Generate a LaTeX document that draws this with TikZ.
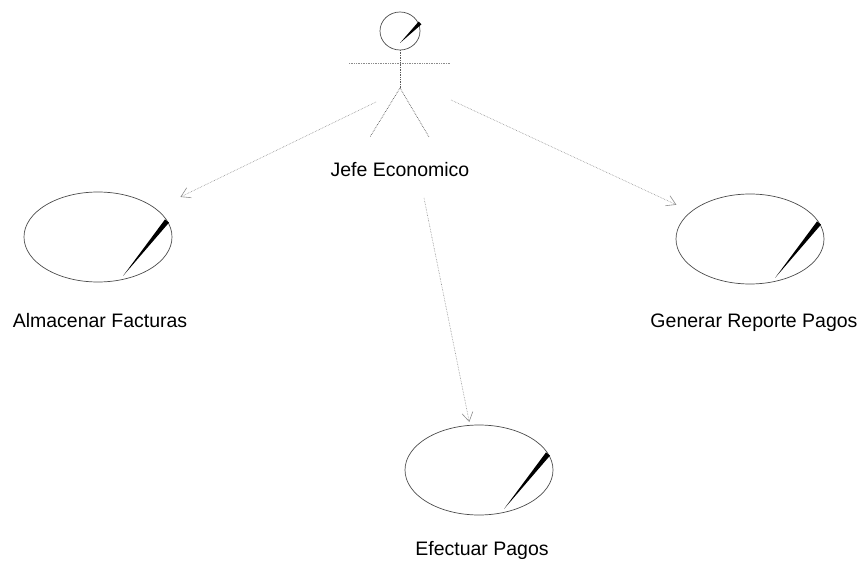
\documentclass[tikz,border=0pt]{standalone}
\usepackage{fontspec}
\setmainfont{Liberation Sans}
\usetikzlibrary{shapes.geometric,arrows.meta,calc}
\tikzset{
  usecase/.style={draw=black!70, line width=0.7pt, ellipse, minimum width=148pt, minimum height=90pt, inner sep=0pt},
  assoc/.style={draw=black!45, densely dotted, line width=0.6pt, -{Straight Barb[length=9pt,width=11pt]}},
  stick/.style={draw=black!65, densely dotted, line width=0.7pt},
  lbl/.style={font=\fontsize{19.5}{23}\selectfont, anchor=base, inner sep=0pt},
}
\begin{document}
\begin{tikzpicture}[x=1pt,y=-1pt]
    \useasboundingbox (0,0) rectangle (862,561);
    %actor
    \draw[draw=black!70, line width=0.7pt] (400,31) ellipse [x radius=20, y radius=19];
    \fill (400,43) -- (418.6,21.6) -- (421.4,24.4) -- cycle;
    \draw[stick] (400,50) -- (400,88);
    \draw[stick, black!45] (349,63) -- (450,63);
    \draw[stick] (400,88) -- (370,137);
    \draw[stick] (400,88) -- (429,137);
    \node[lbl] (jefe) at (400,177) {Jefe Economico};
    \coordinate (jefeL) at (376,102);
    \coordinate (jefeR) at (451,100);
    \coordinate (jefeB) at (424,198);
    %use cases
    \node[usecase] (alm) at (98,237) {};
    \node[usecase] (gen) at (750,239) {};
    \node[usecase] (efe) at (479,470) {};
    \fill ($(alm)+(25,39)$) -- ($(alm)+(67,-17.6)$) -- ($(alm)+(71,-14.4)$) -- cycle;
    \fill ($(gen)+(25,39)$) -- ($(gen)+(67,-17.6)$) -- ($(gen)+(71,-14.4)$) -- cycle;
    \fill ($(efe)+(25,39)$) -- ($(efe)+(67,-17.6)$) -- ($(efe)+(71,-14.4)$) -- cycle;
    \node[lbl] (almL) at (100,327) {Almacenar Facturas};
    \node[lbl] (genL) at (754,327) {Generar Reporte Pagos};
    \node[lbl] (efeL) at (482,555) {Efectuar Pagos};
    %associations
    \draw[assoc, shorten >=27pt] (jefeL) -- (alm);
    \draw[assoc, shorten >=16pt] (jefeR) -- (gen);
    \draw[assoc, shorten >=3pt] (jefeB) -- (efe);

\end{tikzpicture}
\end{document}
